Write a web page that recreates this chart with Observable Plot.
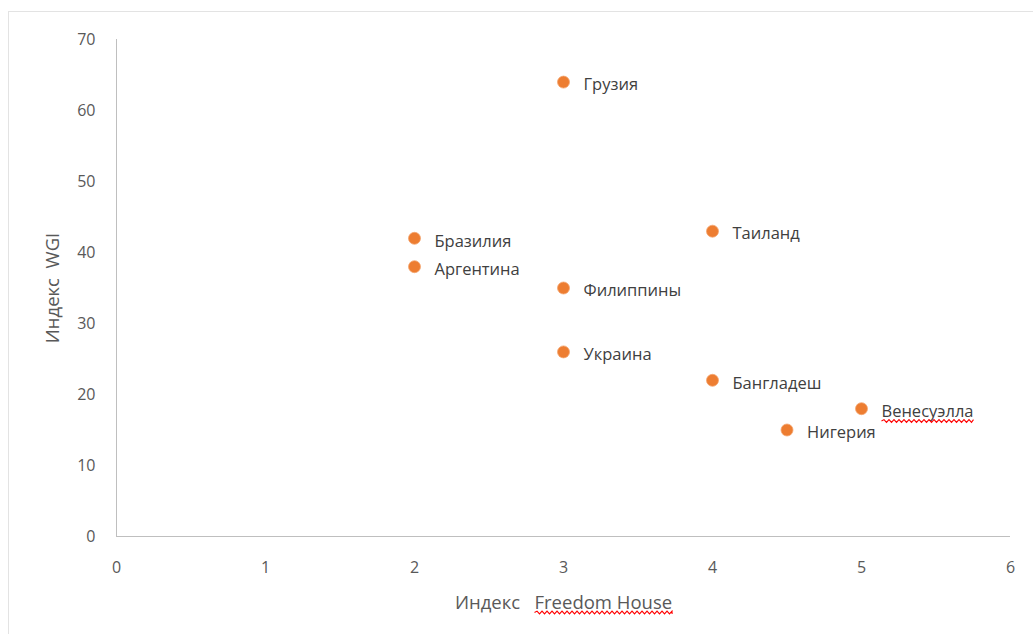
<!DOCTYPE html>
<html>
<head>
<meta charset="utf-8">
<script src="https://cdn.jsdelivr.net/npm/d3@7"></script>
<script src="https://cdn.jsdelivr.net/npm/@observablehq/plot@0.6"></script>
<style>
  html, body { margin: 0; padding: 0; background: #fff; overflow: hidden; }
  #frame { position: absolute; left: 8px; top: 11px; right: -5px; bottom: -5px; border: 1px solid #e3e3e3; pointer-events: none; }
  #chart { position: absolute; left: 0; top: 0; }
</style>
</head>
<body>
<div id="frame"></div>
<div id="chart"></div>
<script>
const countries = ["Грузия", "Бразилия", "Аргентина", "Таиланд", "Филиппины", "Украина", "Бангладеш", "Венесуэлла", "Нигерия"];
const freedomHouse = [3, 2, 2, 4, 3, 3, 4, 5, 4.5];
const wgi = [64, 42, 38, 43, 35, 26, 22, 18, 15];
const xTicks = [0, 1, 2, 3, 4, 5, 6];
const yTicks = [0, 10, 20, 30, 40, 50, 60, 70];
const xLabelA = "Индекс";
const xLabelB = "Freedom House";
const yLabel = "Индекс  WGI";

const data = countries.map((c, i) => ({ country: c, x: freedomHouse[i], y: wgi[i] }));

const plot = Plot.plot({
  width: 1033,
  height: 634,
  marginLeft: 116,
  marginRight: 23,
  marginTop: 39,
  marginBottom: 98,
  style: { fontFamily: "'Open Sans', sans-serif", fontSize: "16px", color: "#595959", background: "transparent" },
  x: { domain: [0, 6], ticks: xTicks, tickFormat: "d", tickSize: 0, tickPadding: 25, label: xLabelA + " " + xLabelB, labelAnchor: "center", labelOffset: 72, labelArrow: "none" },
  y: { domain: [0, 70], ticks: yTicks, tickFormat: "d", tickSize: 0, tickPadding: 21, label: yLabel, labelAnchor: "center", labelOffset: 71, labelArrow: "none" },
  marks: [
    Plot.ruleX([0], { stroke: "#bfbfbf", strokeWidth: 1 }),
    Plot.ruleY([0], { stroke: "#bfbfbf", strokeWidth: 1 }),
    Plot.dot(data, { x: "x", y: "y", r: 6, fill: "#ED7D31", stroke: "#f4a46f", strokeWidth: 0.8 }),
    Plot.text(data, { x: "x", y: "y", text: "country", dx: 20, dy: 3, textAnchor: "start", fill: "#404040", fontSize: 16.5 })
  ]
});

document.getElementById("chart").appendChild(plot);

const svg = d3.select(plot);
svg.selectAll("g[aria-label$='axis label'] text").style("font-size", "18.5px");

// red wavy spell-check underline beneath a run of characters
function wavy(textEl, contentEl, from, to) {
  const a = contentEl.getExtentOfChar(from);
  const b = contentEl.getExtentOfChar(to);
  const x0 = a.x, x1 = b.x + b.width;
  const y = a.y + a.height - 1;
  const p = d3.path();
  p.moveTo(x0, y);
  let up = true;
  for (let x = x0; x < x1; x += 2.5) {
    p.lineTo(Math.min(x + 2.5, x1), y + (up ? -1.4 : 1.4));
    up = !up;
  }
  const parent = textEl.parentNode;
  const path = d3.select(parent).append("path")
    .attr("d", p.toString())
    .attr("fill", "none")
    .attr("stroke", "#ff0000")
    .attr("stroke-width", 1.1);
  const t = textEl.getAttribute("transform");
  if (t) path.attr("transform", t);
}

svg.selectAll("text").each(function () {
  if (this.textContent === "Венесуэлла") wavy(this, this, 0, this.textContent.length - 1);
});
const xlNode = svg.select("g[aria-label='x-axis label'] text").node();
if (xlNode) {
  const xl = d3.select(xlNode);
  xl.text(null);
  xl.append("tspan").text(xLabelA + "\u00a0\u00a0\u00a0");
  const ts = xl.append("tspan").text(xLabelB).node();
  wavy(xlNode, ts, 0, xLabelB.length - 1);
}
</script>
</body>
</html>
